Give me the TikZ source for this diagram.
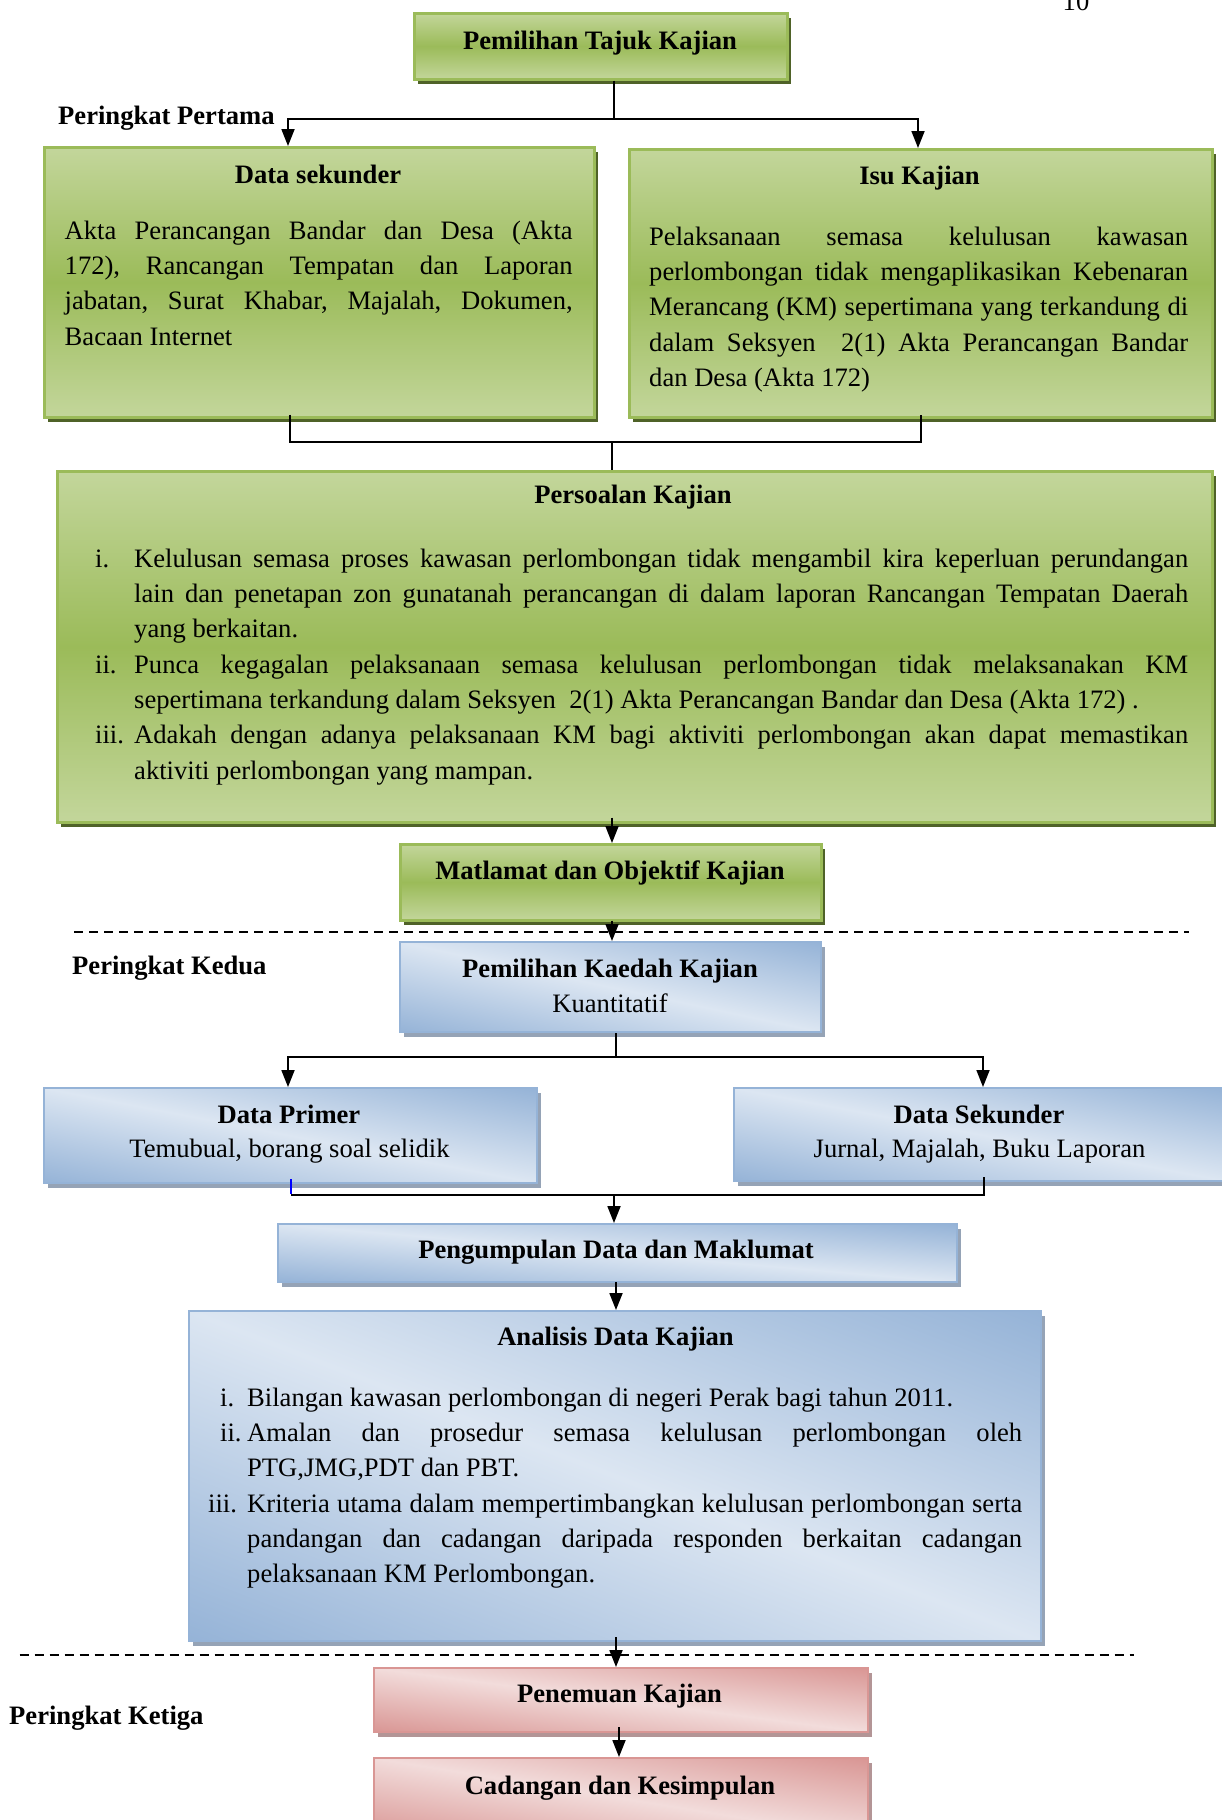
\documentclass[tikz,border=0pt]{standalone}
\usepackage{fontspec}
\setmainfont{Liberation Serif}
\usetikzlibrary{arrows.meta,shadows,calc}
\setlength{\parindent}{0pt}
\definecolor{gL}{HTML}{C3D69B}
\definecolor{gD}{HTML}{9BBB59}
\definecolor{gS}{HTML}{4F6228}
\definecolor{bL}{HTML}{DCE6F2}
\definecolor{bD}{HTML}{95B3D7}
\definecolor{bS}{HTML}{95A3B6}
\definecolor{rL}{HTML}{F2DCDB}
\definecolor{rD}{HTML}{D99694}
\definecolor{rS}{HTML}{B39596}
\definecolor{tickblue}{HTML}{0000FF}
% diagonal gradients: dark at top-right and bottom-left corners, light along the other diagonal
\pgfdeclarefunctionalshading{bdiag}{\pgfpointorigin}{\pgfpoint{100bp}{100bp}}{}{
  add 100 sub abs 50 div
  dup -0.2784 mul 0.8627 add exch
  dup -0.2000 mul 0.9020 add exch
  -0.1059 mul 0.9490 add
}
\pgfdeclarefunctionalshading{rdiag}{\pgfpointorigin}{\pgfpoint{100bp}{100bp}}{}{
  add 100 sub abs 50 div
  dup -0.0980 mul 0.9490 add exch
  dup -0.2745 mul 0.8627 add exch
  -0.2784 mul 0.8588 add
}
\newcommand{\bodyfont}{\fontsize{26.6pt}{35.3pt}\selectfont\frenchspacing\spaceskip=\fontdimen2\font plus 1fil minus 0.08em\relax}
\newcommand{\JL}[2]{\hbox to #1{#2}}
\newcommand{\NL}[1]{\hbox{#1}}
\tikzset{
  boxbase/.style={rectangle, inner sep=0pt, anchor=north west},
  greenbox/.style={boxbase, draw=gD, line width=2.5pt,
    top color=gL, bottom color=gL, middle color=gD,
    drop shadow={fill=gS, opacity=1, shadow xshift=4pt, shadow yshift=-5pt}},
  bluebox/.style={boxbase, draw=bD, line width=2pt, shade, shading=bdiag, shading angle=0,
    drop shadow={fill=bS, opacity=1, shadow xshift=4pt, shadow yshift=-5pt}},
  pinkbox/.style={boxbase, draw=rD, line width=2pt, shade, shading=rdiag, shading angle=0,
    drop shadow={fill=rS, opacity=1, shadow xshift=4pt, shadow yshift=-5pt}},
  ttl/.style={inner sep=0pt, anchor=base, font=\bodyfont\bfseries},
  txt/.style={inner sep=0pt, anchor=base, font=\bodyfont},
  lbl/.style={inner sep=0pt, anchor=base west, font=\bodyfont\bfseries},
  para/.style={inner sep=0pt, anchor=north west, font=\bodyfont},
  conn/.style={draw=black, line width=1.8pt},
  arr/.style={conn, -{Triangle[length=17pt,width=13pt]}},
  sepline/.style={draw=black, line width=2pt, dash pattern=on 9pt off 6pt},
}
\begin{document}
\begin{tikzpicture}[x=1pt,y=-1pt]
\useasboundingbox (0,0) rectangle (1222,1820);

% page number (cut at top)
\node[txt] (pgno) at (1076,10) {10};

% ---------- boxes ----------
\node[greenbox, minimum width=373pt, minimum height=66pt] (top) at (413,12) {};
\node[greenbox, minimum width=550pt, minimum height=270pt] (ds) at (43,146) {};
\node[greenbox, minimum width=583pt, minimum height=268pt] (isu) at (628,148) {};
\node[greenbox, minimum width=1155pt, minimum height=351pt] (pk) at (56,470) {};
\node[greenbox, minimum width=421pt, minimum height=76pt] (mat) at (399,843) {};

\node[bluebox, minimum width=421pt, minimum height=90pt] (kd) at (399,941) {};
\node[bluebox, minimum width=493pt, minimum height=95pt] (dp) at (43,1087) {};
\node[bluebox, minimum width=493pt, minimum height=93pt] (dsk) at (733,1087) {};
\node[bluebox, minimum width=679pt, minimum height=58pt] (pg) at (277,1223) {};
\node[bluebox, minimum width=852pt, minimum height=330pt] (an) at (188,1310) {};

\node[pinkbox, minimum width=494pt, minimum height=64pt] (pn) at (373,1667) {};
\node[pinkbox, minimum width=494pt, minimum height=80pt] (cd) at (373,1757) {};

% ---------- texts ----------
\node[ttl] (topT) at (600,49) {Pemilihan Tajuk Kajian};
\node[lbl] (lv1) at (58,124) {Peringkat Pertama};

\node[ttl] (dsT) at (318,183) {Data sekunder};
\node[para] (dsB) at (64.5,214.29) {\vtop{%
\JL{508pt}{\strut Akta Perancangan Bandar dan Desa (Akta}
\JL{508pt}{172), Rancangan Tempatan dan Laporan}
\JL{508pt}{jabatan, Surat Khabar, Majalah, Dokumen,}
\NL{Bacaan Internet}}};

\node[ttl] (isuT) at (919.5,184) {Isu Kajian};
\node[para] (isuB) at (649,220.29) {\vtop{%
\JL{539pt}{\strut Pelaksanaan semasa kelulusan kawasan}
\JL{539pt}{perlombongan tidak mengaplikasikan Kebenaran}
\JL{539pt}{Merancang (KM) sepertimana yang terkandung di}
\JL{539pt}{dalam Seksyen\ \ 2(1) Akta Perancangan Bandar}
\NL{dan Desa (Akta 172)}}};

\node[ttl] (pkT) at (633,503) {Persoalan Kajian};
\node[para] (pkB) at (134,542.29) {\vtop{%
\JL{1054pt}{\strut\llap{\makebox[39pt][l]{i.}}Kelulusan semasa proses kawasan perlombongan tidak mengambil kira keperluan perundangan}
\JL{1054pt}{lain dan penetapan zon gunatanah perancangan di dalam laporan Rancangan Tempatan Daerah}
\NL{yang berkaitan.}
\JL{1054pt}{\llap{\makebox[39pt][l]{ii.}}Punca kegagalan pelaksanaan semasa kelulusan perlombongan tidak melaksanakan KM}
\NL{sepertimana terkandung dalam Seksyen\ \ 2(1) Akta Perancangan Bandar dan Desa (Akta 172)\ .}
\JL{1054pt}{\llap{\makebox[39pt][l]{iii.}}Adakah dengan adanya pelaksanaan KM bagi aktiviti perlombongan akan dapat memastikan}
\NL{aktiviti perlombongan yang mampan.}}};

\node[ttl] (matT) at (610,879) {Matlamat dan Objektif Kajian};

\node[lbl] (lv2) at (72,974) {Peringkat Kedua};
\node[ttl] (kdT) at (610,977) {Pemilihan Kaedah Kajian};
\node[txt] (kdB) at (610,1012) {Kuantitatif};

\node[ttl] (dpT) at (289,1123) {Data Primer};
\node[txt] (dpB) at (289.5,1157) {Temubual, borang soal selidik};
\node[ttl] (dskT) at (979,1123) {Data Sekunder};
\node[txt] (dskB) at (979.5,1157) {Jurnal, Majalah, Buku Laporan};

\node[ttl] (pgT) at (616,1258) {Pengumpulan Data dan Maklumat};

\node[ttl] (anT) at (615.5,1345) {Analisis Data Kajian};
\node[para] (anB) at (247,1381.29) {\vtop{%
\NL{\strut\llap{\makebox[27pt][l]{i.}}Bilangan kawasan perlombongan di negeri Perak bagi tahun 2011.}
\JL{775pt}{\llap{\makebox[27pt][l]{ii.}}Amalan dan prosedur semasa kelulusan perlombongan oleh}
\NL{PTG,JMG,PDT dan PBT.}
\JL{775pt}{\llap{\makebox[39pt][l]{iii.}}Kriteria utama dalam mempertimbangkan kelulusan perlombongan serta}
\JL{775pt}{pandangan dan cadangan daripada responden berkaitan cadangan}
\NL{pelaksanaan KM Perlombongan.}}};

\node[lbl] (lv3) at (9,1724) {Peringkat Ketiga};
\node[ttl] (pnT) at (619.5,1702) {Penemuan Kajian};
\node[ttl] (cdT) at (620,1794) {Cadangan dan Kesimpulan};

% ---------- separators ----------
\draw[sepline] (74,932) -- (1189,932);
\draw[sepline] (19.5,1655) -- (1134,1655);

% ---------- connectors ----------
\coordinate (j1) at (614,119);
\coordinate (xa) at (288,0);
\coordinate (xb) at (918,0);
\draw[conn] (top.south -| j1) -- (j1);
\draw[arr] (j1) -| (xa |- ds.north);
\draw[arr] (j1) -| (xb |- isu.north);

\coordinate (j2) at (612,442);
\coordinate (xc) at (290,0);
\coordinate (xd) at (921,0);
\draw[conn] ($(ds.south -| xc)+(0,-4)$) |- (j2) -| ($(isu.south -| xd)+(0,-4)$);
\draw[conn] (j2) -- (pk.north -| j2);

\coordinate (xe) at (612,0);
\draw[arr] ($(pk.south -| xe)+(0,-6)$) -- (mat.north -| xe);
\draw[arr] ($(mat.south -| xe)+(0,-1)$) -- (kd.north -| xe);

\coordinate (j3) at (616,1057);
\coordinate (xf) at (983,0);
\draw[conn] (kd.south -| j3) -- (j3);
\draw[arr] (j3) -| (xa |- dp.north);
\draw[arr] (j3) -| (xf |- dsk.north);

\coordinate (j4) at (614,1195);
\coordinate (xg) at (291,0);
\coordinate (xh) at (984,0);
\draw[draw=tickblue, line width=1.8pt] ($(dp.south -| xg)+(0,-5)$) -- ($(xg |- j4)+(0,-1)$);
\draw[conn] (xg |- j4) -| ($(dsk.south -| xh)+(0,-5)$);
\draw[arr] (j4) -- (pg.north -| j4);

\coordinate (xi) at (616,0);
\draw[arr] ($(pg.south -| xi)+(0,-1)$) -- (an.north -| xi);
\draw[arr] ($(an.south -| xi)+(0,-5)$) -- (pn.north -| xi);
\coordinate (xj) at (619,0);
\draw[arr] ($(pn.south -| xj)+(0,-6)$) -- (cd.north -| xj);
\end{tikzpicture}
\end{document}
